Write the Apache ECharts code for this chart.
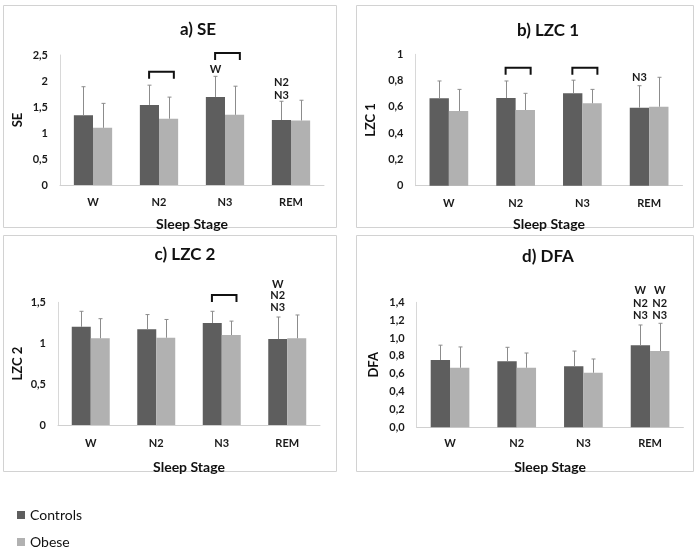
<!DOCTYPE html>
<html>
<head>
<meta charset="utf-8">
<script src="https://cdn.jsdelivr.net/npm/echarts@6/dist/echarts.min.js"></script>
<style>html,body{margin:0;padding:0;background:#fff}#c{width:700px;height:550px}</style>
</head>
<body>
<div id="c"></div>
<script>
const categories = ['W', 'N2', 'N3', 'REM'];
const seriesNames = ['Controls', 'Obese'];

// a) SE
const seControls = [1.34, 1.54, 1.69, 1.25];
const seControlsSD = [0.55, 0.38, 0.40, 0.36];
const seObese = [1.10, 1.275, 1.35, 1.24];
const seObeseSD = [0.47, 0.415, 0.55, 0.39];
// b) LZC 1
const lzc1Controls = [0.665, 0.667, 0.703, 0.594];
const lzc1ControlsSD = [0.132, 0.13, 0.10, 0.167];
const lzc1Obese = [0.568, 0.576, 0.627, 0.601];
const lzc1ObeseSD = [0.165, 0.127, 0.106, 0.224];
// c) LZC 2
const lzc2Controls = [1.20, 1.17, 1.247, 1.05];
const lzc2ControlsSD = [0.19, 0.18, 0.143, 0.27];
const lzc2Obese = [1.06, 1.067, 1.10, 1.06];
const lzc2ObeseSD = [0.24, 0.223, 0.17, 0.285];
// d) DFA
const dfaControls = [0.754, 0.739, 0.683, 0.918];
const dfaControlsSD = [0.166, 0.157, 0.171, 0.228];
const dfaObese = [0.667, 0.667, 0.611, 0.854];
const dfaObeseSD = [0.233, 0.165, 0.154, 0.311];

// significance brackets: [category index, value at top of bracket]
const seBrackets = [[1, 2.18], [2, 2.54]];
const lzc1Brackets = [[1, 0.898], [2, 0.898]];
const lzc2Brackets = [[2, 1.59]];
const dfaBrackets = [];

// annotations: [category index, group (0 controls / 1 obese), value, text]
const seNotes = [[2, 0, 2.23, 'W'], [3, 0, 1.98, 'N2'], [3, 0, 1.73, 'N3']];
const lzc1Notes = [[3, 0, 0.827, 'N3']];
const lzc2Notes = [[3, 0, 1.72, 'W'], [3, 0, 1.58, 'N2'], [3, 0, 1.44, 'N3']];
const dfaNotes = [[3, 0, 1.537, 'W'], [3, 0, 1.388, 'N2'], [3, 0, 1.254, 'N3'],
                  [3, 1, 1.537, 'W'], [3, 1, 1.388, 'N2'], [3, 1, 1.254, 'N3']];

const titles = ['a) SE', 'b) LZC 1', 'c) LZC 2', 'd) DFA'];
const yNames = ['SE', 'LZC 1', 'LZC 2', 'DFA'];
const yMax = [2.5, 1, 1.5, 1.4];
const yInterval = [0.5, 0.2, 0.5, 0.2];

const panels = [
  {c: seControls, cs: seControlsSD, o: seObese, os: seObeseSD, br: seBrackets, notes: seNotes},
  {c: lzc1Controls, cs: lzc1ControlsSD, o: lzc1Obese, os: lzc1ObeseSD, br: lzc1Brackets, notes: lzc1Notes},
  {c: lzc2Controls, cs: lzc2ControlsSD, o: lzc2Obese, os: lzc2ObeseSD, br: lzc2Brackets, notes: lzc2Notes},
  {c: dfaControls, cs: dfaControlsSD, o: dfaObese, os: dfaObeseSD, br: dfaBrackets, notes: dfaNotes}
];

// layout
const FONT = 'Lato';
const GAP = 0.42;
const grids = [
  {left: 60, top: 55, width: 264, height: 130},
  {left: 415.5, top: 54.3, width: 267, height: 131.4},
  {left: 58, top: 302.3, width: 262, height: 122.7},
  {left: 416.7, top: 302.3, width: 266.7, height: 125}
];
const xLabelMargin = [12, 12, 13, 11];
const xNameGap = [32, 32, 35, 33];
const yNameGap = [36, 38, 34, 36];
const titlePos = [[193, 16], [543, 17], [180, 241], [543, 243]];
const frames = [[3, 5, 333, 222], [356, 5, 337, 222], [3, 235, 333, 236], [356, 235, 337, 236]];
const colors = ['#5e5e5e', '#b1b1b1'];

function errRender(side) {
  return function (params, api) {
    const x = api.value(0), m = api.value(1), s = api.value(2);
    const base = api.coord([x, m]);
    const top = api.coord([x, m + s]);
    const cw = api.size([1, 0])[0];
    const bw = cw * (1 - GAP) / 2;
    const cx = Math.round(base[0] + (side === 0 ? -bw / 2 : bw / 2)) + 0.5;
    const st = {stroke: '#8c8c8c', lineWidth: 1};
    return {type: 'group', children: [
      {type: 'line', shape: {x1: cx, y1: base[1], x2: cx, y2: top[1]}, style: st},
      {type: 'line', shape: {x1: cx - 2, y1: top[1], x2: cx + 2, y2: top[1]}, style: st}
    ]};
  };
}
function bracketRender(params, api) {
  const p = api.coord([api.value(0), api.value(1)]);
  const cw = api.size([1, 0])[0];
  const x1 = p[0] - cw * 0.15, x2 = p[0] + cw * 0.225;
  return {type: 'polyline', shape: {points: [[x1, p[1] + 7], [x1, p[1]], [x2, p[1]], [x2, p[1] + 7]]},
    style: {stroke: '#111', lineWidth: 2, fill: null}};
}
function noteRender(notes) {
  return function (params, api) {
    const n = notes[params.dataIndex];
    const p = api.coord([n[0], n[2]]);
    const cw = api.size([1, 0])[0];
    const bw = cw * (1 - GAP) / 2;
    const cx = p[0] + (n[1] === 0 ? -bw / 2 : bw / 2);
    return {type: 'text', x: cx, y: p[1], style: {text: n[3], fontFamily: FONT, fontWeight: 'bold',
      fontSize: 11, fill: '#1a1a1a', align: 'center', verticalAlign: 'middle'}};
  };
}

const option = {
  animation: false,
  backgroundColor: '#ffffff',
  color: colors,
  title: titles.map((t, i) => ({text: t, left: titlePos[i][0], top: titlePos[i][1], textAlign: 'center',
    textStyle: {fontFamily: FONT, fontWeight: 'bold', fontSize: 17, color: '#111'}})),
  legend: {data: seriesNames, orient: 'vertical', left: 17, top: 508, padding: 0, itemGap: 13,
    itemWidth: 8, itemHeight: 8, icon: 'rect',
    textStyle: {fontFamily: FONT, fontSize: 14, color: '#111'}},
  graphic: frames.map(f => ({type: 'rect', shape: {x: f[0] + 0.5, y: f[1] + 0.5, width: f[2], height: f[3]},
    style: {fill: null, stroke: '#d2d2d2', lineWidth: 1}, z: -10, silent: true})),
  grid: grids,
  xAxis: grids.map((g, i) => ({type: 'category', gridIndex: i, data: categories,
    axisTick: {show: false}, axisLine: {lineStyle: {color: '#d0d0d0', width: 1}},
    axisLabel: {fontFamily: FONT, fontWeight: 'bold', fontSize: 11, color: '#1a1a1a', margin: xLabelMargin[i]},
    name: 'Sleep Stage', nameLocation: 'middle', nameGap: xNameGap[i],
    nameTextStyle: {fontFamily: FONT, fontWeight: 'bold', fontSize: 14, color: '#111'}})),
  yAxis: grids.map((g, i) => ({type: 'value', gridIndex: i, min: 0, max: yMax[i], interval: yInterval[i],
    splitLine: {show: false}, axisTick: {show: false},
    axisLine: {show: true, lineStyle: {color: '#d8d8d8', width: 1}},
    axisLabel: {fontFamily: FONT, fontWeight: 'bold', fontSize: 11, color: '#1a1a1a', margin: 12,
      formatter: v => (i === 3 ? v.toFixed(1) : String(+v.toFixed(2))).replace('.', ',')},
    name: yNames[i], nameLocation: 'middle', nameGap: yNameGap[i], nameRotate: 90,
    nameTextStyle: {fontFamily: FONT, fontWeight: 'bold', fontSize: 13, color: '#111'}})),
  series: []
};

panels.forEach((p, i) => {
  option.series.push(
    {name: 'Controls', type: 'bar', xAxisIndex: i, yAxisIndex: i, data: p.c, barGap: '0%', barCategoryGap: '42%',
      itemStyle: {color: colors[0]}},
    {name: 'Obese', type: 'bar', xAxisIndex: i, yAxisIndex: i, data: p.o, barGap: '0%', barCategoryGap: '42%',
      itemStyle: {color: colors[1]}},
    {type: 'custom', xAxisIndex: i, yAxisIndex: i, z: 5, renderItem: errRender(0),
      data: p.c.map((v, k) => [k, v, p.cs[k]])},
    {type: 'custom', xAxisIndex: i, yAxisIndex: i, z: 5, renderItem: errRender(1),
      data: p.o.map((v, k) => [k, v, p.os[k]])},
    {type: 'custom', xAxisIndex: i, yAxisIndex: i, z: 6, renderItem: bracketRender, clip: false,
      data: p.br.map(b => [b[0], b[1]])},
    {type: 'custom', xAxisIndex: i, yAxisIndex: i, z: 6, renderItem: noteRender(p.notes), clip: false,
      data: p.notes.map(n => [n[0], n[2]])}
  );
});

const chart = echarts.init(document.getElementById('c'), null, {renderer: 'canvas'});
chart.setOption(option);
</script>
</body>
</html>
